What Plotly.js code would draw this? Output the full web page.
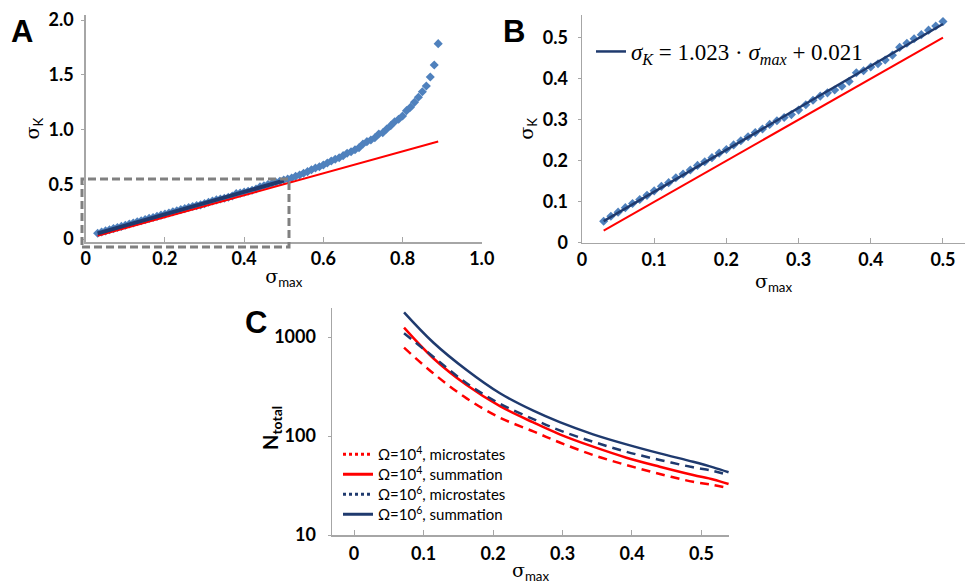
<!DOCTYPE html>
<html>
<head>
<meta charset="utf-8">
<script src="https://cdn.plot.ly/plotly-3.0.1.min.js"></script>
<style>html,body{margin:0;padding:0;background:#fff;}#chart{width:966px;height:584px;}</style>
</head>
<body>
<div id="chart"></div>
<script>
// ---------- Panel A / B data ----------
const sigmaMax = [0.03,0.04,0.05,0.06,0.07,0.08,0.09,0.10,0.11,0.12,0.13,0.14,0.15,0.16,0.17,0.18,0.19,0.20,
  0.21,0.22,0.23,0.24,0.25,0.26,0.27,0.28,0.29,0.30,0.31,0.32,0.33,0.34,0.35,0.36,0.37,0.38,0.39,0.40,
  0.41,0.42,0.43,0.44,0.45,0.46,0.47,0.48,0.49,0.50,0.51,0.52,0.53,0.54,0.55,0.56,0.57,0.58,0.59,0.60,
  0.61,0.62,0.63,0.64,0.65,0.66,0.67,0.68,0.69,0.70,0.71,0.72,0.73,0.74,0.75,0.76,0.77,0.78,0.79,0.80,
  0.81,0.82,0.83,0.84,0.85,0.86,0.87,0.88,0.89];
const sigmaK = [0.052,0.064,0.074,0.085,0.095,0.105,0.115,0.126,0.137,0.146,0.158,0.167,0.177,0.188,0.197,0.207,0.218,0.227,
  0.238,0.248,0.258,0.268,0.277,0.288,0.297,0.305,0.312,0.323,0.336,0.347,0.357,0.365,0.372,0.381,0.393,0.414,0.419,0.428,
  0.436,0.445,0.457,0.476,0.486,0.497,0.507,0.518,0.528,0.539,0.548,0.557,0.573,0.584,0.600,0.615,0.633,0.648,0.660,0.676,
  0.694,0.712,0.728,0.742,0.761,0.783,0.797,0.815,0.834,0.868,0.889,0.904,0.925,0.959,0.971,1.005,1.035,1.071,1.093,1.123,
  1.172,1.203,1.248,1.294,1.345,1.397,1.479,1.589,1.784];
const fitX = [0.03, 0.50];
const fitY = [0.052, 0.533];
const redX = [0.03, 0.10, 0.20, 0.30, 0.40, 0.50, 0.60, 0.70, 0.80, 0.89];
const redY = [0.029, 0.099, 0.199, 0.298, 0.399, 0.500, 0.600, 0.700, 0.800, 0.890];
const fitLabel = '<i>σ<sub>K</sub></i> = 1.023 · <i>σ<sub>max</sub></i> + 0.021';

// ---------- Panel C data ----------
const cX = [0.072, 0.114, 0.162, 0.210, 0.258, 0.296, 0.344, 0.392, 0.440, 0.488, 0.517, 0.539];
const n4Micro = [780, 430, 240, 153, 111.4, 86, 64.3, 50.9, 41.3, 34.5, 32.0, 29.8];
const n4Sum   = [1242, 610, 327, 200, 137, 104, 78, 60.4, 49, 40.4, 36.4, 32.7];
const n6Micro = [1090, 632, 341, 212, 148, 114, 87.5, 69.3, 57.3, 48.3, 44.3, 40.4];
const n6Sum   = [1774, 880, 464, 270, 180, 138, 104, 82.3, 66.7, 54.9, 48.2, 43.0];
const legendNames = ['Ω=10<sup>4</sup>, microstates', 'Ω=10<sup>4</sup>, summation',
                     'Ω=10<sup>6</sup>, microstates', 'Ω=10<sup>6</sup>, summation'];

// ---------- Tick labels ----------
const aXTicks = [0, 0.2, 0.4, 0.6, 0.8, 1.0];
const aXText  = ['0', '0.2', '0.4', '0.6', '0.8', '1.0'];
const aYTicks = [0, 0.5, 1.0, 1.5, 2.0];
const aYText  = ['0', '0.5', '1.0', '1.5', '2.0'];
const bXTicks = [0, 0.1, 0.2, 0.3, 0.4, 0.5];
const bXText  = ['0', '0.1', '0.2', '0.3', '0.4', '0.5'];
const bYTicks = [0, 0.1, 0.2, 0.3, 0.4, 0.5];
const bYText  = ['0', '0.1', '0.2', '0.3', '0.4', '0.5'];
const cXTicks = [0, 0.1, 0.2, 0.3, 0.4, 0.5];
const cXText  = ['0', '0.1', '0.2', '0.3', '0.4', '0.5'];
const cYTicks = [10, 100, 1000];
const cYText  = ['10', '100', '1000'];

const RED = '#ff0000', NAVY = '#1f3a6e', DOT = '#4f81bd', AX = '#a6a6a6';

const bMask = sigmaMax.map(v => v <= 0.5 + 1e-9);
const bX = sigmaMax.filter((v, i) => bMask[i]);
const bY = sigmaK.filter((v, i) => bMask[i]);
const rbMask = redX.map(v => v <= 0.5 + 1e-9);
const rbX = redX.filter((v, i) => rbMask[i]);
const rbY = redY.filter((v, i) => rbMask[i]);

const cLine = {width: 2.5, shape: 'spline', smoothing: 1};
const traces = [
  // Panel A
  {x: sigmaMax, y: sigmaK, xaxis: 'x', yaxis: 'y', mode: 'markers', type: 'scatter',
   marker: {symbol: 'diamond', size: 7, color: DOT}, showlegend: false},
  {x: redX, y: redY, xaxis: 'x', yaxis: 'y', mode: 'lines', line: {color: RED, width: 2}, showlegend: false},
  {x: fitX, y: fitY, xaxis: 'x', yaxis: 'y', mode: 'lines', line: {color: NAVY, width: 4}, showlegend: false},
  // Panel B
  {x: bX, y: bY, xaxis: 'x2', yaxis: 'y2', mode: 'markers',
   marker: {symbol: 'diamond', size: 7, color: DOT}, showlegend: false},
  {x: rbX, y: rbY, xaxis: 'x2', yaxis: 'y2', mode: 'lines', line: {color: RED, width: 2}, showlegend: false},
  {x: fitX, y: fitY, xaxis: 'x2', yaxis: 'y2', mode: 'lines', line: {color: NAVY, width: 2.5},
   name: fitLabel, legend: 'legend2', showlegend: true},
  // Panel C
  {x: cX, y: n4Micro, xaxis: 'x3', yaxis: 'y3', mode: 'lines', line: Object.assign({color: RED, dash: '9px,6px'}, cLine), showlegend: false},
  {x: cX, y: n4Sum, xaxis: 'x3', yaxis: 'y3', mode: 'lines', line: Object.assign({color: RED}, cLine), showlegend: false},
  {x: cX, y: n6Micro, xaxis: 'x3', yaxis: 'y3', mode: 'lines', line: Object.assign({color: NAVY, dash: '9px,6px'}, cLine), showlegend: false},
  {x: cX, y: n6Sum, xaxis: 'x3', yaxis: 'y3', mode: 'lines', line: Object.assign({color: NAVY}, cLine), showlegend: false},
  // legend entries for C (one legend each, to match the reference row spacing)
  {x: [null], y: [null], xaxis: 'x3', yaxis: 'y3', mode: 'lines', name: legendNames[0], legend: 'legend',  line: {color: RED, width: 3, dash: 'dot'}},
  {x: [null], y: [null], xaxis: 'x3', yaxis: 'y3', mode: 'lines', name: legendNames[1], legend: 'legend3', line: {color: RED, width: 3}},
  {x: [null], y: [null], xaxis: 'x3', yaxis: 'y3', mode: 'lines', name: legendNames[2], legend: 'legend4', line: {color: NAVY, width: 3, dash: 'dot'}},
  {x: [null], y: [null], xaxis: 'x3', yaxis: 'y3', mode: 'lines', name: legendNames[3], legend: 'legend5', line: {color: NAVY, width: 3}}
];

const W = 966, H = 584;
const px = v => v / W, py = v => 1 - v / H;
const tickFont = {family: 'Lato, sans-serif', size: 18, weight: 'bold', color: '#000'};
const sig = '<span style="font-family:\'DejaVu Serif\'">σ</span>';

function axisBase(extra) {
  return Object.assign({
    showline: true, linecolor: AX, linewidth: 1.5, showgrid: false, zeroline: false,
    tickcolor: AX, tickwidth: 1, tickfont: tickFont, fixedrange: true
  }, extra);
}
function cLegend(top) {
  return {x: px(338), y: py(top), xanchor: 'left', yanchor: 'top', bgcolor: 'rgba(0,0,0,0)',
    font: {family: 'Lato, sans-serif', size: 15, color: '#000'}, itemwidth: 30, borderwidth: 0};
}

const layout = {
  width: W, height: H,
  margin: {l: 0, r: 0, t: 0, b: 0},
  paper_bgcolor: '#ffffff', plot_bgcolor: '#ffffff',
  font: {family: 'Lato, sans-serif', color: '#000'},
  xaxis: axisBase({domain: [px(85.75), px(481.75)], range: [0, 1.0], anchor: 'y',
    tickmode: 'array', tickvals: aXTicks, ticktext: aXText, ticks: 'inside', ticklen: 5, ticklabelstandoff: 0,
    title: {text: sig + '<sub>max</sub>', font: {size: 19}, standoff: 1}}),
  yaxis: axisBase({domain: [py(242), py(15)], range: [-0.0274, 2.0457], anchor: 'x',
    tickmode: 'array', tickvals: aYTicks, ticktext: aYText, ticks: 'outside', ticklen: 3, ticklabelstandoff: 4,
    title: {text: sig + '<sub>K</sub>', font: {size: 19}, standoff: 4}}),
  xaxis2: axisBase({domain: [px(582), px(965)], range: [0, 0.5305], anchor: 'y2',
    tickmode: 'array', tickvals: bXTicks, ticktext: bXText, ticks: 'inside', ticklen: 5, ticklabelstandoff: 0,
    title: {text: sig + '<sub>max</sub>', font: {size: 19}, standoff: 2}}),
  yaxis2: axisBase({domain: [py(242.5), py(15)], range: [0, 0.5549], anchor: 'x2',
    tickmode: 'array', tickvals: bYTicks, ticktext: bYText, ticks: 'outside', ticklen: 3, ticklabelstandoff: 6,
    title: {text: sig + '<sub>K</sub>', font: {size: 19}, standoff: 4}}),
  xaxis3: axisBase({domain: [px(332), px(729)], range: [-0.0317, 0.5396], anchor: 'y3',
    tickmode: 'array', tickvals: cXTicks, ticktext: cXText, ticks: 'inside', ticklen: 5, ticklabelstandoff: 2,
    title: {text: sig + '<sub>max</sub>', font: {size: 19}, standoff: 2}}),
  yaxis3: axisBase({domain: [py(535), py(308)], type: 'log', range: [1, 3.293], anchor: 'x3',
    tickmode: 'array', tickvals: cYTicks, ticktext: cYText, ticks: 'outside', ticklen: 3, ticklabelstandoff: 8}),
  showlegend: true,
  legend: cLegend(438),
  legend3: cLegend(458),
  legend4: cLegend(478),
  legend5: cLegend(498),
  legend2: {x: px(591), y: py(30), xanchor: 'left', yanchor: 'top', bgcolor: 'rgba(0,0,0,0)',
    font: {family: 'Liberation Serif, serif', size: 23, color: '#000'}, itemwidth: 30, borderwidth: 0},
  shapes: [
    {type: 'rect', xref: 'paper', yref: 'paper', x0: px(82), x1: px(289), y0: py(247), y1: py(179),
     line: {color: '#808080', width: 3, dash: '8px,4px'}, fillcolor: 'rgba(0,0,0,0)'}
  ],
  annotations: [
    {text: '<b>A</b>', x: px(22), y: py(31), xref: 'paper', yref: 'paper', showarrow: false, xanchor: 'center', yanchor: 'middle',
     font: {family: 'Liberation Sans, Arial, sans-serif', size: 31, color: '#000'}},
    {text: '<b>B</b>', x: px(514), y: py(31), xref: 'paper', yref: 'paper', showarrow: false, xanchor: 'center', yanchor: 'middle',
     font: {family: 'Liberation Sans, Arial, sans-serif', size: 31, color: '#000'}},
    {text: '<b>C</b>', x: px(256), y: py(322), xref: 'paper', yref: 'paper', showarrow: false, xanchor: 'center', yanchor: 'middle',
     font: {family: 'Liberation Sans, Arial, sans-serif', size: 31, color: '#000'}},
    {text: '<b>N<sub>total</sub></b>', x: px(271), y: py(428), xref: 'paper', yref: 'paper', showarrow: false,
     xanchor: 'center', yanchor: 'middle', textangle: -90,
     font: {family: 'Lato, sans-serif', size: 20, color: '#000'}}
  ]
};

Plotly.newPlot('chart', traces, layout, {displayModeBar: false, staticPlot: true});
</script>
</body>
</html>
